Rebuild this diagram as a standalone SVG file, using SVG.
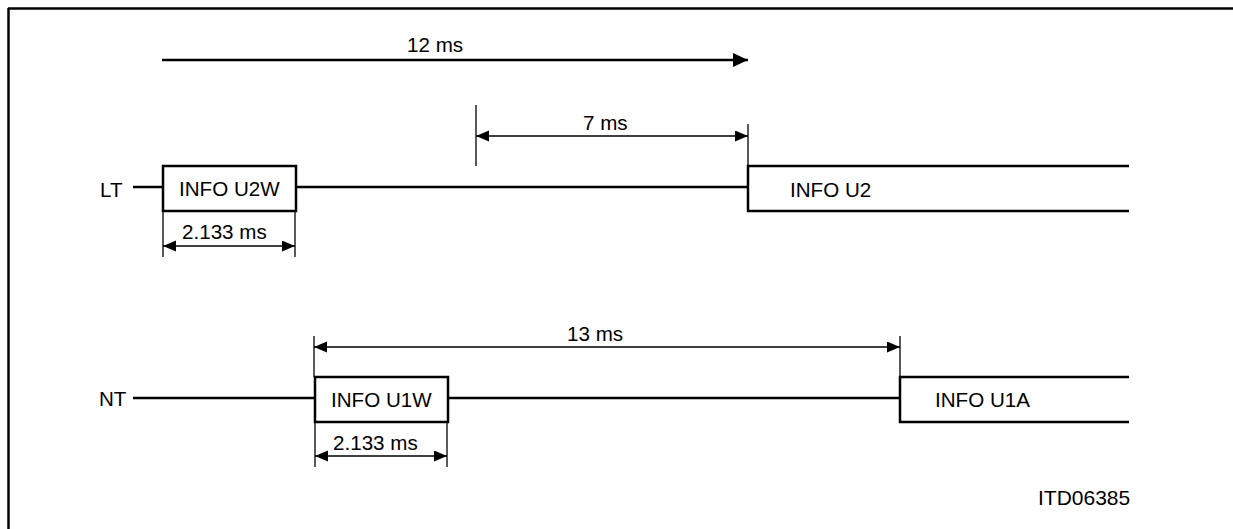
<svg xmlns="http://www.w3.org/2000/svg" width="1233" height="529" viewBox="0 0 1233 529">
<style>
text{font-family:"Liberation Sans",Arial,sans-serif;font-size:20.6px;fill:#000}
.thick{stroke:#000;stroke-width:2.5;fill:none}
.thin{stroke:#000;stroke-width:1.3;fill:none}
</style>
<defs>
<marker id="ah" markerUnits="userSpaceOnUse" markerWidth="16" markerHeight="14" refX="15" refY="7" orient="auto-start-reverse"><path d="M0,0 L15,7 L0,14 z" fill="#000"/></marker>
<marker id="as" markerUnits="userSpaceOnUse" markerWidth="14" markerHeight="12" refX="13" refY="5.5" orient="auto-start-reverse"><path d="M0,0 L13,5.5 L0,11 z" fill="#000"/></marker>
</defs>
<rect width="1233" height="529" fill="#fff"/>
<g id="frame">
<line class="thick" x1="8" y1="8.5" x2="1233" y2="8.5"/>
<line class="thick" x1="8.5" y1="8" x2="8.5" y2="529"/>
</g>
<g id="connectors">
<line class="thick" x1="162" y1="60" x2="748" y2="60" marker-end="url(#ah)"/>
<line class="thin" x1="476" y1="105" x2="476" y2="166"/>
<line class="thin" x1="748" y1="124" x2="748" y2="166"/>
<line class="thin" x1="476" y1="136" x2="748" y2="136" marker-start="url(#as)" marker-end="url(#as)"/>
<line class="thick" x1="133" y1="187" x2="163" y2="187"/>
<line class="thick" x1="296" y1="187" x2="748" y2="187"/>
<line class="thin" x1="163" y1="211" x2="163" y2="257"/>
<line class="thin" x1="295" y1="211" x2="295" y2="257"/>
<line class="thin" x1="163" y1="246" x2="295" y2="246" marker-start="url(#as)" marker-end="url(#as)"/>
<line class="thick" x1="133" y1="398" x2="315" y2="398"/>
<line class="thick" x1="448" y1="398" x2="900" y2="398"/>
<line class="thin" x1="314" y1="336" x2="314" y2="377"/>
<line class="thin" x1="900" y1="336" x2="900" y2="377"/>
<line class="thin" x1="314" y1="347" x2="900" y2="347" marker-start="url(#as)" marker-end="url(#as)"/>
<line class="thin" x1="315" y1="422" x2="315" y2="467"/>
<line class="thin" x1="447" y1="422" x2="447" y2="467"/>
<line class="thin" x1="315" y1="456" x2="447" y2="456" marker-start="url(#as)" marker-end="url(#as)"/>
</g>
<g id="labels">
<text x="407" y="52">12 ms</text>
<text x="583" y="130">7 ms</text>
<text x="182" y="239">2.133 ms</text>
<text x="567" y="341">13 ms</text>
<text x="333" y="450">2.133 ms</text>
<text x="1038" y="505" style="font-size:21px">ITD06385</text>
</g>
<g id="LT"><text x="100" y="197">LT</text></g>
<g id="NT"><text x="99" y="406">NT</text></g>
<g id="U2W"><rect class="thick" x="163" y="166" width="133" height="45"/><text x="179" y="196">INFO U2W</text></g>
<g id="U2"><path class="thick" d="M1129,166 H748 V211 H1129"/><text x="790" y="197">INFO U2</text></g>
<g id="U1W"><rect class="thick" x="315" y="377" width="133" height="45"/><text x="331" y="407">INFO U1W</text></g>
<g id="U1A"><path class="thick" d="M1129,377 H900 V422 H1129"/><text x="935" y="407">INFO U1A</text></g>
</svg>
